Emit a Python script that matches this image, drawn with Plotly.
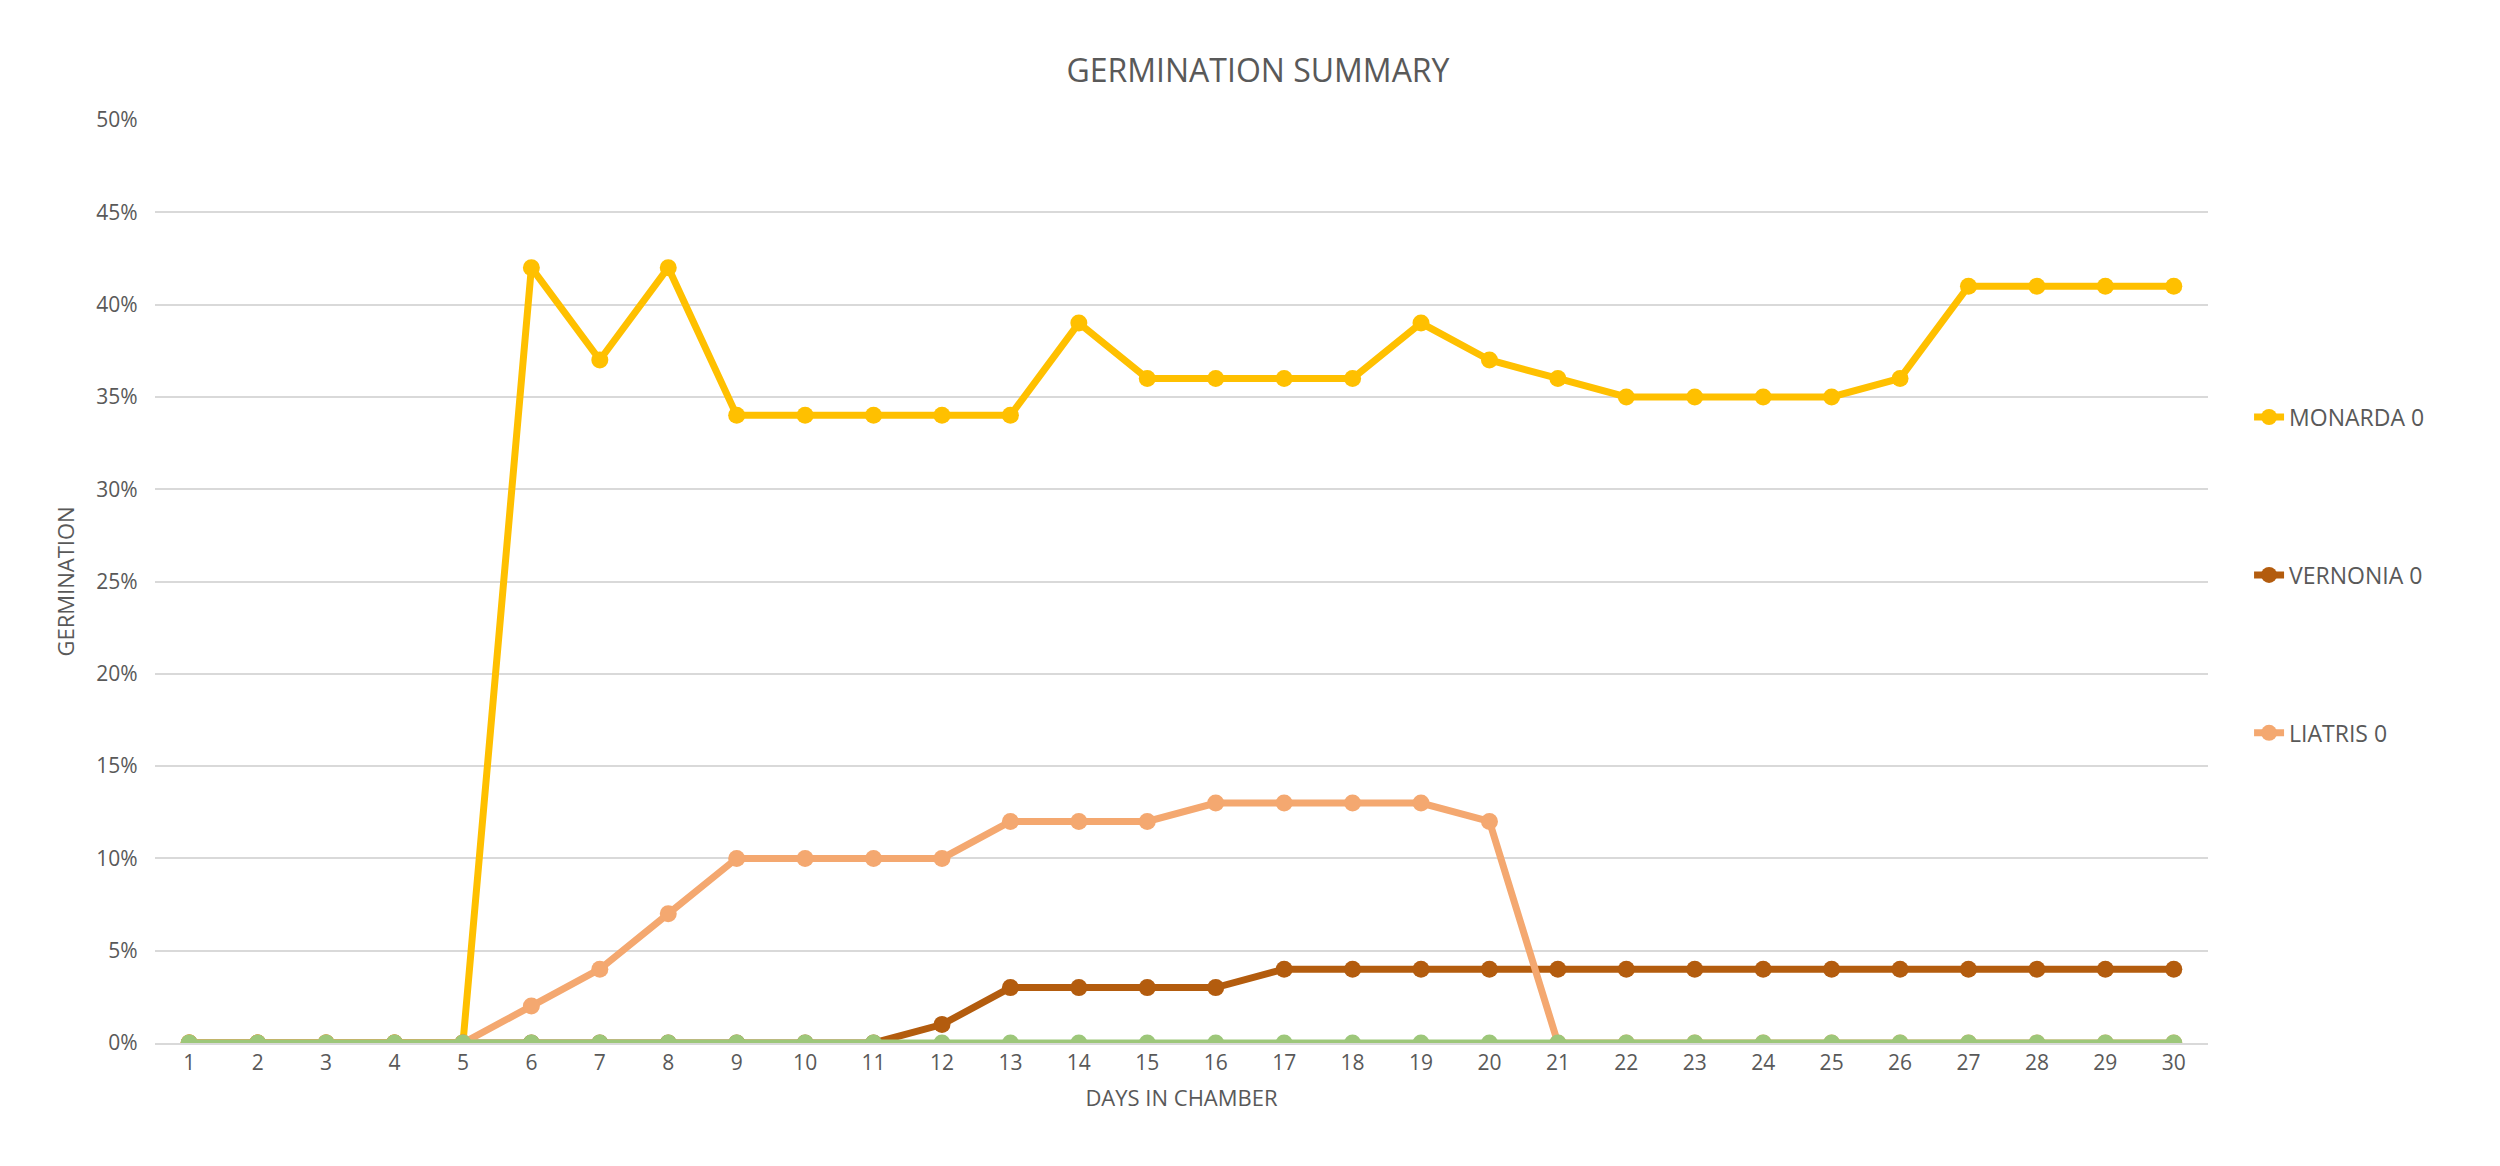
import plotly.graph_objects as go

days = list(range(1, 31))
monarda = [0, 0, 0, 0, 0, 42, 37, 42, 34, 34, 34, 34, 34, 39, 36, 36, 36, 36, 39, 37,
           36, 35, 35, 35, 35, 36, 41, 41, 41, 41]
vernonia = [0, 0, 0, 0, 0, 0, 0, 0, 0, 0, 0, 1, 3, 3, 3, 3, 4, 4, 4, 4,
            4, 4, 4, 4, 4, 4, 4, 4, 4, 4]
liatris = [0, 0, 0, 0, 0, 2, 4, 7, 10, 10, 10, 10, 12, 12, 12, 13, 13, 13, 13, 12,
           0, 0, 0, 0, 0, 0, 0, 0, 0, 0]
other = [0] * 30

series = [
    ("MONARDA 0", monarda, "#FFC000", True),
    ("VERNONIA 0", vernonia, "#B35C0E", True),
    ("LIATRIS 0", liatris, "#F4A870", True),
    ("", other, "#9DC77A", False),
]

fig = go.Figure()
for name, vals, color, show in series:
    fig.add_trace(go.Scatter(
        x=days, y=[v / 100 for v in vals], mode='lines+markers', name=name,
        legendgroup=name or 'other', showlegend=show,
        line=dict(color=color, width=7), marker=dict(color=color, size=17)))

grey = '#595959'
fig.update_layout(
    width=2500, height=1166,
    paper_bgcolor='white', plot_bgcolor='white',
    font=dict(family='Open Sans, Liberation Sans, sans-serif', size=21, color=grey),
    title=dict(text='GERMINATION SUMMARY', x=0.5, xanchor='center', y=0.956,
               font=dict(size=32, color=grey)),
    margin=dict(l=147, r=300, t=112, b=131),
    legend=dict(x=1.02, xanchor='left', y=0.507, yanchor='middle',
                tracegroupgap=125, font=dict(size=23, color=grey)),
    xaxis=dict(title=dict(text='DAYS IN CHAMBER', font=dict(size=22)),
               tickmode='array', tickvals=days, range=[0.5, 30.5],
               showgrid=False, showline=True, linecolor='#D9D9D9', linewidth=2,
               ticks='', zeroline=False),
    yaxis=dict(title=dict(text='GERMINATION', font=dict(size=22)),
               range=[0, 0.5], dtick=0.05, tickformat='.0%',
               gridcolor='#D9D9D9', gridwidth=2, zeroline=False, ticks='',
               ticksuffix='   '),
)

fig.write_html("out.html")
